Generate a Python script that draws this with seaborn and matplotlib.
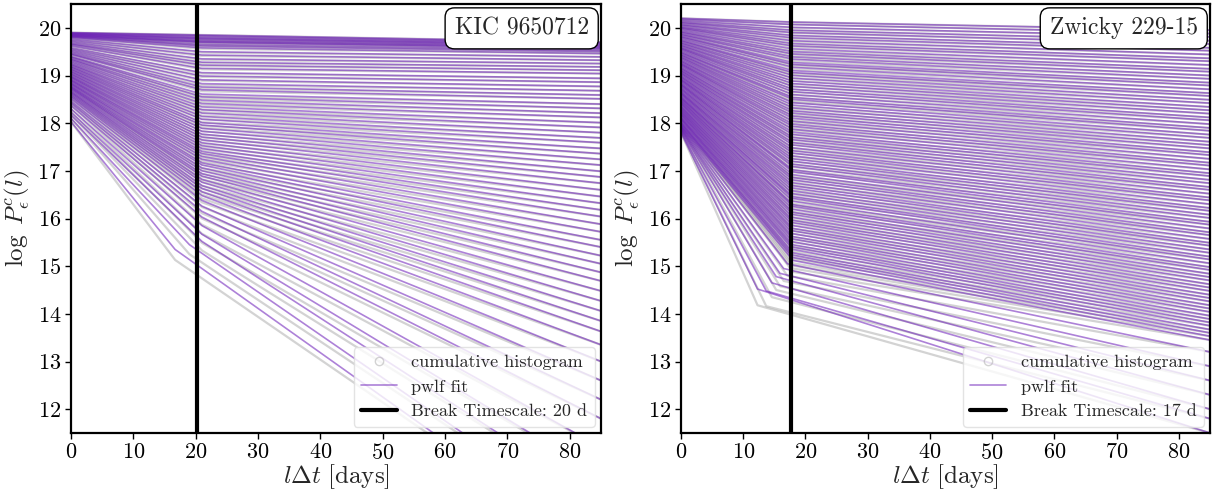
import numpy as np
import pandas as pd
import matplotlib
matplotlib.use("Agg")
import matplotlib.pyplot as plt
import seaborn as sns
from matplotlib.lines import Line2D

# ---------------- data ----------------
END_LAG = 85.0

targets = ["KIC 9650712", "Zwicky 229-15"]
break_timescales = [20.2, 17.7]
break_labels = ["Break Timescale: 20 d", "Break Timescale: 17 d"]

# KIC 9650712 : each pwlf fit = value at lag 0, break lag, value at break, value at 85 d
L_start = [19.90, 19.89, 19.88, 19.87, 19.86, 19.85, 19.84, 19.83, 19.82, 19.81,
           19.79, 19.76, 19.73, 19.70, 19.67, 19.65, 19.62, 19.58, 19.55, 19.52,
           19.49, 19.46, 19.44, 19.40, 19.38, 19.35, 19.33, 19.30, 19.27, 19.24,
           19.22, 19.19, 19.17, 19.14, 19.12, 19.09, 19.07, 19.04, 19.02, 18.99,
           18.97, 18.95, 18.92, 18.90, 18.88, 18.85, 18.83, 18.81, 18.78, 18.76,
           18.74, 18.72, 18.69, 18.66, 18.64, 18.61, 18.58, 18.55, 18.51, 18.46,
           18.42, 18.37, 18.30, 18.23, 18.17, 18.10, 18.03]
L_break_x = [21.0] * 65 + [19.0, 16.7]
L_break_y = [19.85, 19.83, 19.80, 19.78, 19.76, 19.73, 19.71, 19.69, 19.65, 19.62,
             19.58, 19.50, 19.43, 19.35, 19.28, 19.22, 19.15, 19.06, 18.99, 18.91,
             18.83, 18.76, 18.70, 18.61, 18.55, 18.48, 18.41, 18.34, 18.28, 18.21,
             18.14, 18.08, 18.01, 17.96, 17.89, 17.83, 17.77, 17.71, 17.65, 17.59,
             17.53, 17.47, 17.41, 17.36, 17.30, 17.24, 17.17, 17.12, 17.06, 17.00,
             16.94, 16.89, 16.82, 16.76, 16.69, 16.63, 16.56, 16.48, 16.38, 16.26,
             16.15, 16.03, 15.85, 15.67, 15.52, 15.45, 15.35]
L_end = [19.70, 19.68, 19.66, 19.64, 19.62, 19.60, 19.58, 19.56, 19.53, 19.50,
         19.46, 19.39, 19.32, 19.25, 19.18, 19.11, 19.04, 18.94, 18.86, 18.77,
         18.68, 18.59, 18.51, 18.40, 18.31, 18.21, 18.12, 18.01, 17.91, 17.80,
         17.69, 17.59, 17.47, 17.36, 17.24, 17.12, 16.99, 16.87, 16.74, 16.60,
         16.46, 16.32, 16.18, 16.04, 15.88, 15.72, 15.55, 15.40, 15.22, 15.05,
         14.87, 14.69, 14.48, 14.27, 14.06, 13.85, 13.63, 13.35, 13.00, 12.60,
         12.20, 11.80, 11.20, 10.60, 10.10, 9.50, 9.00]
# how far the cumulative histogram sags below the fit at the knee
L_hist_dip = [0.00, 0.00, 0.00, 0.01, 0.01, 0.01, 0.01, 0.01, 0.01, 0.01,
              0.02, 0.02, 0.02, 0.02, 0.02, 0.02, 0.02, 0.02, 0.02, 0.02,
              0.03, 0.03, 0.03, 0.04, 0.04, 0.04, 0.04, 0.05, 0.05, 0.05,
              0.05, 0.06, 0.06, 0.06, 0.06, 0.07, 0.07, 0.07, 0.08, 0.08,
              0.08, 0.09, 0.09, 0.10, 0.10, 0.10, 0.11, 0.11, 0.12, 0.12,
              0.12, 0.12, 0.13, 0.13, 0.13, 0.13, 0.14, 0.14, 0.14, 0.15,
              0.15, 0.16, 0.17, 0.18, 0.19, 0.20, 0.22]

# Zwicky 229-15
R_start = [20.20, 20.18, 20.15, 20.12, 20.10, 20.07, 20.05, 20.02, 20.00, 19.98,
           19.95, 19.92, 19.90, 19.87, 19.85, 19.82, 19.80, 19.77, 19.74, 19.72,
           19.69, 19.67, 19.64, 19.62, 19.59, 19.57, 19.55, 19.52, 19.49, 19.47,
           19.44, 19.42, 19.39, 19.37, 19.34, 19.31, 19.29, 19.26, 19.24, 19.22,
           19.19, 19.16, 19.14, 19.11, 19.09, 19.06, 19.04, 19.01, 18.98, 18.96,
           18.93, 18.91, 18.89, 18.86, 18.83, 18.81, 18.79, 18.76, 18.73, 18.71,
           18.68, 18.65, 18.63, 18.61, 18.58, 18.55, 18.53, 18.51, 18.48, 18.46,
           18.43, 18.41, 18.38, 18.35, 18.33, 18.30, 18.28, 18.25, 18.23, 18.20,
           18.18, 18.15, 18.12, 18.10, 18.08, 18.05, 18.02, 18.00, 17.98, 17.95,
           17.94, 17.92, 17.90, 17.88, 17.86, 17.83, 17.80]
R_break_x = [18.0] * 90 + [17.1, 16.5, 15.9, 15.3, 14.6, 13.7, 12.3]
R_break_y = [20.12, 20.07, 20.01, 19.95, 19.90, 19.84, 19.79, 19.73, 19.67, 19.62,
             19.56, 19.50, 19.45, 19.39, 19.34, 19.27, 19.23, 19.17, 19.10, 19.06,
             19.00, 18.94, 18.88, 18.83, 18.77, 18.71, 18.66, 18.60, 18.54, 18.50,
             18.43, 18.38, 18.32, 18.26, 18.21, 18.15, 18.10, 18.04, 17.98, 17.93,
             17.87, 17.81, 17.76, 17.70, 17.65, 17.59, 17.54, 17.48, 17.42, 17.37,
             17.31, 17.25, 17.20, 17.14, 17.09, 17.02, 16.98, 16.92, 16.86, 16.81,
             16.75, 16.69, 16.64, 16.58, 16.52, 16.46, 16.42, 16.36, 16.29, 16.25,
             16.19, 16.13, 16.08, 16.02, 15.96, 15.91, 15.85, 15.79, 15.74, 15.68,
             15.62, 15.57, 15.51, 15.45, 15.40, 15.35, 15.28, 15.23, 15.18, 15.12,
             15.05, 14.95, 14.85, 14.78, 14.65, 14.48, 14.52]
R_end = [19.95, 19.88, 19.81, 19.73, 19.66, 19.58, 19.52, 19.44, 19.36, 19.30,
         19.22, 19.14, 19.08, 19.00, 18.93, 18.85, 18.79, 18.71, 18.63, 18.57,
         18.49, 18.42, 18.34, 18.27, 18.20, 18.12, 18.06, 17.98, 17.90, 17.84,
         17.76, 17.69, 17.61, 17.54, 17.47, 17.39, 17.33, 17.25, 17.17, 17.11,
         17.03, 16.95, 16.89, 16.81, 16.74, 16.66, 16.60, 16.52, 16.44, 16.38,
         16.30, 16.22, 16.16, 16.08, 16.01, 15.93, 15.87, 15.79, 15.71, 15.65,
         15.57, 15.49, 15.43, 15.35, 15.28, 15.20, 15.14, 15.06, 14.98, 14.92,
         14.84, 14.77, 14.70, 14.62, 14.55, 14.48, 14.40, 14.33, 14.26, 14.18,
         14.11, 14.04, 13.96, 13.89, 13.82, 13.75, 13.67, 13.60, 13.53, 13.45,
         13.20, 12.90, 12.60, 12.30, 12.00, 11.80, 11.50]
R_hist_dip = [0.00, 0.00, 0.01, 0.01, 0.01, 0.01, 0.02, 0.02, 0.02, 0.02,
              0.03, 0.03, 0.03, 0.03, 0.04, 0.04, 0.04, 0.04, 0.05, 0.05,
              0.05, 0.05, 0.06, 0.06, 0.06, 0.06, 0.07, 0.07, 0.07, 0.07,
              0.08, 0.08, 0.08, 0.08, 0.08, 0.09, 0.09, 0.09, 0.09, 0.09,
              0.10, 0.10, 0.10, 0.10, 0.10, 0.11, 0.11, 0.11, 0.11, 0.11,
              0.12, 0.12, 0.12, 0.12, 0.12, 0.13, 0.13, 0.13, 0.13, 0.13,
              0.14, 0.14, 0.14, 0.14, 0.14, 0.15, 0.15, 0.15, 0.15, 0.15,
              0.16, 0.16, 0.16, 0.16, 0.17, 0.17, 0.17, 0.18, 0.18, 0.18,
              0.19, 0.19, 0.20, 0.20, 0.21, 0.21, 0.22, 0.22, 0.23, 0.24,
              0.25, 0.26, 0.27, 0.28, 0.30, 0.32, 0.34]

panels = [
    (L_start, L_break_x, L_break_y, L_end, L_hist_dip),
    (R_start, R_break_x, R_break_y, R_end, R_hist_dip),
]

# ---------------- style ----------------
PURPLE = "#6a1ab8"
GREY = "#a8a8a8"

sns.set_theme(style="ticks")
plt.rcParams.update({
    "font.family": "serif",
    "font.serif": ["cmr10", "DejaVu Serif"],
    "mathtext.fontset": "cm",
    "axes.unicode_minus": False,
    "axes.formatter.use_mathtext": True,
})


def long_frame(start, bx, by, end, dip=None):
    rows = []
    for i, (a, x, b, e) in enumerate(zip(start, bx, by, end)):
        kb = b - (dip[i] if dip is not None else 0.0)
        rows += [(i, 0.0, a), (i, x, kb), (i, END_LAG, e)]
    return pd.DataFrame(rows, columns=["line", "lag", "logP"])


W, H = 1213, 490
fig = plt.figure(figsize=(W / 100, H / 100), dpi=100)
ax_boxes = [[71 / W, 57 / H, 530 / W, 429 / H],
            [681 / W, 57 / H, 529 / W, 429 / H]]

for k, (start, bx, by, end, dip) in enumerate(panels):
    ax = fig.add_axes(ax_boxes[k])
    hist_df = long_frame(start, bx, by, end, dip)
    fit_df = long_frame(start, bx, by, end)
    sns.lineplot(data=hist_df, x="lag", y="logP", units="line", estimator=None,
                 sort=False, color=GREY, alpha=0.5, lw=1.6, ax=ax, legend=False)
    sns.lineplot(data=fit_df, x="lag", y="logP", units="line", estimator=None,
                 sort=False, color=PURPLE, alpha=0.55, lw=1.2, ax=ax, legend=False)
    ax.axvline(break_timescales[k], color="black", lw=3, zorder=5)

    ax.set_xlim(0, 85)
    ax.set_ylim(11.5, 20.5)
    ax.set_xticks(range(0, 81, 10))
    ax.set_yticks(range(12, 21))
    ax.tick_params(direction="out", length=4, width=1, labelsize=16,
                   colors="black", pad=3)
    for sp in ax.spines.values():
        sp.set_linewidth(1.6)
        sp.set_color("black")
    ax.set_xlabel(r"$l\Delta t\ [\mathrm{days}]$", fontsize=18, labelpad=0)
    ax.set_ylabel(r"$\log\ P_{\epsilon}^{c}(l)$", fontsize=18, labelpad=4)

    ax.text(0.977, 0.969, targets[k], transform=ax.transAxes, ha="right",
            va="top", fontsize=17, zorder=10,
            bbox=dict(boxstyle="round,pad=0.4", fc="white", ec="black", lw=1))

    handles = [
        Line2D([], [], marker="o", ls="none", mfc="none", mec=GREY, alpha=0.5,
               ms=6),
        Line2D([], [], color=PURPLE, alpha=0.55, lw=1.2),
        Line2D([], [], color="black", lw=3),
    ]
    leg = ax.legend(handles, ["cumulative histogram", "pwlf fit", break_labels[k]],
                    loc="lower right", fontsize=13, frameon=True, fancybox=True,
                    framealpha=0.8, edgecolor="#dddddd", borderaxespad=0.35)
    leg.set_zorder(20)

fig.savefig("out.png", dpi=100)
